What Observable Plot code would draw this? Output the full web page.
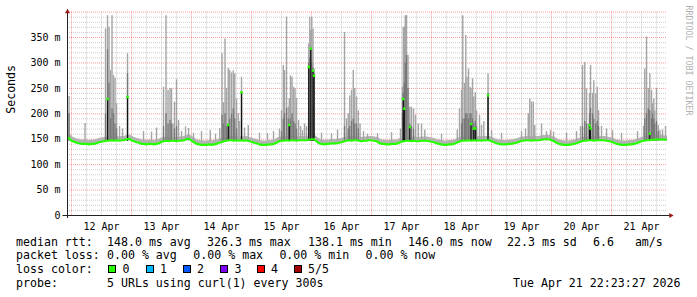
<!DOCTYPE html>
<html><head><meta charset="utf-8">
<script src="https://cdn.jsdelivr.net/npm/d3@7"></script>
<script src="https://cdn.jsdelivr.net/npm/@observablehq/plot@0.6"></script>
<style>
html,body{margin:0;padding:0;background:#fff;}
#wrap{position:relative;width:697px;height:297px;overflow:hidden;background:#fff;}
#chart svg{display:block;}
.lg{position:absolute;font-family:"DejaVu Sans Mono",monospace;font-size:11.6px;line-height:12px;white-space:pre;color:#000;}
.box{position:absolute;width:6px;height:6px;border:1px solid #000;}
</style></head><body>
<div id="wrap"><div id="chart"></div></div>
<script>
// ---- data ----
// hourly median rtt (ms), first sample Apr 11 22:00
const medianRtt = [
  154,152,
  147,145,143,142,141,141,141,140,141,141,142,144,145,146,147,147,148,147,148,147,148,148,150,151, // Apr 12
  148,146,144,143,141,141,140,141,141,140,141,142,145,146,147,146,147,147,146,147,147,148,150,151, // Apr 13
  147,144,141,140,139,139,139,140,139,140,141,143,144,146,147,148,148,147,148,147,148,147,148,146, // Apr 14
  145,143,142,140,139,139,139,140,140,141,143,146,147,147,148,147,148,148,147,148,148,148,148,149, // Apr 15
  150,150,146,142,141,140,141,141,142,142,142,143,144,146,147,148,147,148,148,147,146,147,147,148, // Apr 16
  148,147,146,143,141,141,140,140,141,141,141,143,145,146,147,147,146,147,146,146,147,147,147,146, // Apr 17
  145,144,142,141,140,139,139,140,140,141,143,145,147,147,147,148,147,148,147,148,147,148,148,148, // Apr 18
  146,144,142,141,140,140,140,141,141,142,143,145,147,147,148,148,147,148,148,148,149,150,150,150, // Apr 19
  148,146,143,141,140,139,139,139,140,141,142,144,146,147,147,148,148,147,148,148,148,148,147,146, // Apr 20
  145,143,141,140,139,139,139,140,140,141,142,144,146,147,148,148,149,149,150,149,150,149,149,149  // Apr 21
];
// smoke spikes: [hours after Apr 12 00:00, max ms, inner ms, median ms]
const smokeSpikes = [
  [-1.0,234,200,null],[5.4,181,null,null],[13.6,367,200,null],[14.4,393,326,229],[15.0,370,260,null],
  [15.6,285,190,null],[16.2,393,210,null],[16.8,275,200,null],[17.4,270,180,null],[18.0,220,170,null],
  [19.2,175,null,null],[20.4,170,null,null],[22.4,318,279,233],
  [28.8,165,null,null],[32.0,164,null,null],[34.0,172,null,null],[36.8,252,175,null],[37.8,393,200,null],
  [38.6,246,180,null],[39.4,250,187,null],[40.0,250,180,null],[40.6,180,null,null],[41.2,223,170,null],
  [42.0,267,175,null],[42.8,187,null,null],[44.0,165,null,null],[45.6,174,null,null],[46.8,171,null,null],
  [48.8,162,null,null],
  [52.0,165,null,null],[55.5,167,null,null],[57.6,160,null,null],[59.3,171,null,null],[60.2,318,197,null],
  [60.8,222,180,null],[61.4,347,200,null],[62.0,250,175,null],[62.7,289,180,178],[63.3,285,190,null],
  [64.0,280,200,null],[64.7,284,210,null],[65.3,279,190,null],[66.0,229,170,null],[66.7,200,null,null],
  [67.2,185,null,null],[68.0,272,242,242],[69.2,172,null,null],[70.7,177,null,null],
  [75.2,162,null,null],[78.4,161,null,null],[80.8,165,null,null],[83.2,170,null,null],[84.0,206,165,null],
  [84.7,295,190,null],[85.2,285,200,null],[86.0,390,210,null],[86.7,213,190,null],[87.1,230,180,178],
  [87.6,275,190,null],[88.2,272,200,null],[88.8,252,185,null],[89.4,250,180,null],[90.0,230,170,null],
  [90.8,187,null,null],[91.6,175,null,null],[92.4,167,null,null],[93.2,180,null,null],[94.0,175,null,null],
  [94.9,338,300,292],[95.3,390,310,null],[95.7,364,330,328],[96.1,390,300,null],[96.6,367,290,285],[97.0,288,280,275],
  [100.0,162,null,null],[104.0,161,null,null],[106.4,168,null,null],[109.2,360,175,null],[110.0,190,null,null],
  [110.7,200,170,null],[111.3,235,175,null],[112.0,246,185,null],[112.7,285,190,null],[113.3,250,180,null],
  [114.0,233,180,null],[114.7,206,170,null],[115.4,180,null,null],[116.8,165,null,null],[118.4,160,null,null],
  [122.4,161,null,null],[128.0,163,null,null],[131.6,170,null,null],[132.4,252,200,null],[132.7,370,240,229],
  [133.1,370,260,210],[133.5,393,300,null],[134.0,393,315,null],[134.6,315,250,null],[135.3,213,180,174],
  [136.0,213,175,null],[136.8,210,170,null],[137.6,197,null,null],[138.7,180,null,null],[140.0,180,null,null],
  [141.3,168,null,null],
  [148.0,160,null,null],[154.3,168,null,null],[155.2,210,null,null],[156.0,246,180,null],[156.5,393,190,null],
  [157.2,260,190,null],[157.7,354,200,null],[158.2,272,200,null],[158.8,288,190,null],[159.4,252,200,null],
  [159.8,250,200,180],[160.4,269,190,null],[160.9,233,180,171],[161.5,242,185,171],[162.0,206,175,null],
  [163.2,197,null,null],[164.0,177,null,null],[164.9,185,null,null],[166.6,279,240,236],[168.0,167,null,null],
  [172.0,162,null,null],[180.0,165,null,null],[181.6,170,null,null],[182.7,200,null,null],[183.3,229,null,null],
  [184.0,223,null,null],[184.7,223,null,null],[185.3,177,null,null],[188.0,180,null,null],[190.0,165,null,null],
  [191.6,167,null,null],[192.8,164,null,null],
  [198.0,162,null,null],[202.0,165,null,null],[203.6,175,null,null],[204.4,295,175,null],[205.3,301,185,null],
  [206.0,249,180,null],[206.7,180,null,null],[207.2,240,200,177],[207.6,295,210,171],[208.4,240,200,null],
  [208.9,265,190,null],[209.7,239,180,null],[210.3,252,185,null],[210.8,206,175,null],[212.0,175,null,null],
  [214.0,170,null,null],[216.4,167,null,null],
  [220.0,162,null,null],[226.4,165,null,null],[228.8,175,null,null],[229.3,288,190,null],[230.0,351,200,null],
  [230.7,250,210,null],[231.3,279,206,161],[232.0,246,190,null],[232.4,220,200,null],[232.9,229,190,null],
  [233.3,206,180,null],[234.0,250,185,null],[234.7,177,165,null],[235.4,167,null,null],[236.4,168,null,null],
  [237.6,175,null,null]
];
const dayLabels = ["12 Apr","13 Apr","14 Apr","15 Apr","16 Apr","17 Apr","18 Apr","19 Apr","20 Apr","21 Apr"];
const yTicks = [0,50,100,150,200,250,300,350];
const yTickLabels = ["0","50 m","100 m","150 m","200 m","250 m","300 m","350 m"];
const legendNames = ["median rtt:","packet loss:","loss color:","probe:"];
const rttStats = ["148.0 ms avg","326.3 ms max","138.1 ms min","146.0 ms now","22.3 ms sd","6.6   am/s"];
const lossStats = ["0.00 % avg","0.00 % max","0.00 % min","0.00 % now"];
const lossLabels = ["0","1","2","3","4","5/5"];
const lossColors = ["#26ff00","#00b8ff","#0059ff","#7e00ff","#ff0000","#a10000"];
const probeText = "5 URLs using curl(1) every 300s";
const dateText = "Tue Apr 21 22:23:27 2026";

// ---- build ----
const startTime = new Date(Date.UTC(2026,3,11,22,23,27));
const endTime = new Date(Date.UTC(2026,3,21,22,23,27));
const medianStart = Date.UTC(2026,3,11,22);
const day0 = Date.UTC(2026,3,12);
const H = 3600e3;
const medianData = medianRtt.map((v,i)=>({t:new Date(medianStart+i*H), v}));
const spikes = smokeSpikes.map(([h,hi,mid,med])=>({t:new Date(day0+h*H), hi, mid, med}));
const noons = dayLabels.map((_,i)=>new Date(Date.UTC(2026,3,12+i,12)));

const yMinor = d3.range(10,401,10).filter(v=>v%50!==0);
const yMajor = d3.range(50,401,50);
const xMinor = d3.utcHour.every(6).range(startTime,endTime).filter(d=>d.getUTCHours()!==0);
const xMajor = d3.utcDay.range(startTime,endTime);

const chart = Plot.plot({
  width: 697, height: 235,
  marginLeft: 67, marginRight: 30, marginTop: 11.6, marginBottom: 20,
  x: {type:"utc", domain:[startTime,endTime]},
  y: {domain:[0,400]},
  style: {fontFamily:"DejaVu Sans Mono", fontSize:"10px", color:"#000", background:"#fff"},
  marks: [
    Plot.ruleY(yMinor, {stroke:"#909090", strokeOpacity:0.45, strokeDasharray:"1,1"}),
    Plot.ruleX(xMinor, {stroke:"#909090", strokeOpacity:0.45, strokeDasharray:"1,1"}),
    Plot.ruleY(yMajor, {stroke:"#ff0000", strokeOpacity:0.4, strokeDasharray:"1,1"}),
    Plot.ruleX(xMajor, {stroke:"#ff0000", strokeOpacity:0.4, strokeDasharray:"1,1"}),
    Plot.line(medianData, {x:"t", y:"v", stroke:"#b4b4b4", strokeWidth:4.5, dy:-2, clip:true}),
    Plot.ruleX(spikes, {x:"t", y1:146, y2:"hi", stroke:"#a4a4a4", strokeWidth:1.4}),
    Plot.ruleX(spikes.filter(d=>d.mid!=null), {x:"t", y1:146, y2:"mid", stroke:"#777", strokeWidth:1.3}),
    Plot.ruleX(spikes.filter(d=>d.med!=null), {x:"t", y1:146, y2:"med", stroke:"#111", strokeWidth:1.2}),
    Plot.line(medianData, {x:"t", y:"v", stroke:"#26ff00", strokeWidth:2.2, clip:true}),
    Plot.dot(spikes.filter(d=>d.med!=null), {x:"t", y:"med", symbol:"square", r:1.4, fill:"#26ff00", stroke:null}),
    Plot.ruleY([0], {stroke:"#222", insetLeft:-4.5, insetRight:-3}),
    Plot.ruleX([startTime], {stroke:"#222", insetTop:-2, insetBottom:-3}),
    Plot.dot([0], {x:()=>startTime, y:()=>400, symbol:"triangle", r:1.9, fill:"#9b1b1b", stroke:null, dy:-0.4}),
    Plot.dot([0], {x:()=>endTime, y:()=>0, symbol:"triangle", r:1.9, fill:"#9b1b1b", stroke:null, rotate:90, dx:3.2}),
    Plot.axisY(yTicks, {tickSize:0, tickPadding:7, label:null, fontSize:10,
      tickFormat:d=>yTickLabels[yTicks.indexOf(d)]}),
    Plot.axisX(noons, {tickSize:0, tickPadding:7, label:null, fontSize:10,
      tickFormat:d=>dayLabels[noons.findIndex(n=>+n===+d)]}),
    Plot.text(["Seconds"], {text:d=>d, frameAnchor:"left", rotate:-90, dx:-56, fontSize:11.6}),
    Plot.text(["RRDTOOL / TOBI OETIKER"], {text:d=>d, frameAnchor:"top-right", rotate:90, dx:21, dy:-6.6,
      textAnchor:"start", lineAnchor:"middle", fontSize:8.3, fill:"#b0b0b0"})
  ]
});
document.getElementById("chart").appendChild(chart);

// ---- legend below the svg ----
const wrap = document.getElementById("wrap");
function put(text, left, top){
  const s = document.createElement("span");
  s.className = "lg"; s.textContent = text;
  s.style.left = left+"px"; s.style.top = top+"px";
  wrap.appendChild(s); return s;
}
const lineTops = [235.7, 249.3, 263.3, 276.7];
legendNames.forEach((n,i)=>put(n, 16, lineTops[i]));
const rttX = [107, 207, 308, 408, 507, 593];
rttStats.forEach((t,i)=>put(t, rttX[i], lineTops[0]));
const lossX = [107, 193.3, 279.4, 365.5];
lossStats.forEach((t,i)=>put(t, lossX[i], lineTops[1]));
const boxX = [108, 145.6, 182.6, 220, 256.6, 293.6];
lossLabels.forEach((t,i)=>{
  const b = document.createElement("div");
  b.className = "box"; b.style.left = boxX[i]+"px"; b.style.top = "265px";
  b.style.background = lossColors[i];
  wrap.appendChild(b);
  put(t, boxX[i]+14.5, lineTops[2]);
});
put(probeText, 107, lineTops[3]);
put(dateText, 513, lineTops[3]);
</script>
</body></html>
